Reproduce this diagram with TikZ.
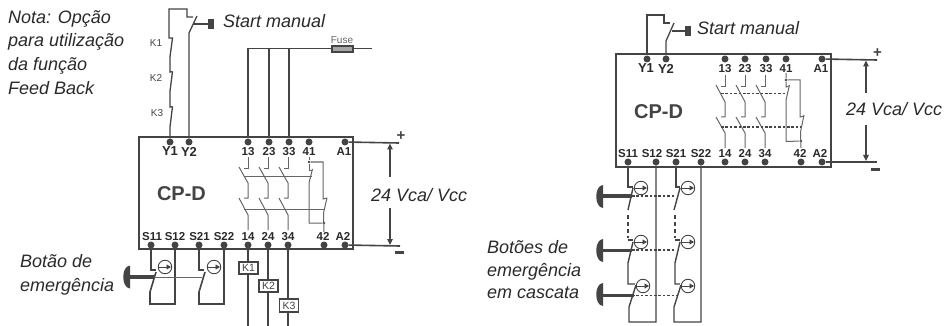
\documentclass[tikz,border=0pt]{standalone}
\usepackage{fontspec}
\setmainfont{Liberation Sans}
\usetikzlibrary{arrows.meta}
\definecolor{wirec}{HTML}{444444}
\definecolor{thinc}{HTML}{666666}
\definecolor{inkc}{HTML}{2A2A2A}
\tikzset{
  wire/.style={draw=wirec,line width=1.6pt},
  thin wire/.style={draw=wirec,line width=1.3pt},
  cas wire/.style={draw=wirec,line width=1.4pt},
  gray wire/.style={draw=thinc,line width=1pt},
  couple/.style={draw=thinc,line width=1pt},
  dashcouple/.style={draw=wirec,line width=1.1pt,dash pattern=on 2.6pt off 1.8pt},
  dashrod/.style={draw=wirec,line width=1.6pt,dash pattern=on 3.5pt off 3.5pt},
  term/.style={circle,fill=wirec,minimum size=7pt,inner sep=0pt},
  smalljoin/.style={circle,fill=wirec,minimum size=2.8pt,inner sep=0pt},
  tlab/.style={font=\fontsize{11.5}{12}\selectfont\bfseries,text=inkc,inner sep=0pt},
  ylab/.style={font=\fontsize{13}{14}\selectfont\bfseries,text=inkc,inner sep=0pt},
  desc/.style={font=\fontsize{18}{20}\selectfont\itshape,text=inkc,inner sep=0pt,anchor=base west},
  klab/.style={font=\fontsize{10}{12}\selectfont,text=wirec,inner sep=0pt},
  cpd/.style={font=\fontsize{20}{22}\selectfont\bfseries,text=wirec,inner sep=0pt},
  sign/.style={font=\fontsize{15}{16}\selectfont\bfseries,text=wirec,inner sep=0pt},
  kbox/.style={draw=wirec,line width=1.6pt,fill=white,font=\fontsize{10.5}{12}\selectfont,text=wirec,inner sep=0pt,minimum width=19pt,minimum height=12.5pt},
  arr/.style={draw=wirec,line width=1.2pt,-{Triangle[length=6pt,width=5.5pt]}},
  push/.style={draw=wirec,line width=3.2pt},
  pushhead/.style={fill=wirec},
  ring/.style={draw=wirec,line width=.9pt,fill=white,circle,minimum size=13.5pt,inner sep=0pt},
  ringarrow/.style={draw=wirec,line width=.8pt,-{Triangle[length=4.5pt,width=5pt]}}
}
\newcommand{\ehead}[2]{\fill[pushhead] (#1+7,#2-11.5) .. controls (#1-2,#2-11) and (#1-2,#2+11) .. (#1+7,#2+11.5) -- cycle;}
\newcommand{\ringm}[3]{\node[ring] (#1) at (#2,#3) {}; \draw[ringarrow] (#2-6,#3) -- (#2+6,#3);}
\begin{document}
\begin{tikzpicture}[x=1pt,y=-1pt]
\useasboundingbox (0,0) rectangle (945,326);
\fill[white] (0,0) rectangle (945,326);

%% ---------- LEFT ----------
\node[desc] (nota1) at (8,23.5) {Nota: Opção};
\node[desc] (nota2) at (8,47) {para utilização};
\node[desc] (nota3) at (8,71) {da função};
\node[desc] (nota4) at (8,94.5) {Feed Back};
\node[desc] (start1) at (223,28) {Start manual};
\node[klab] (k1l) at (156,43) {K1};
\node[klab] (k2l) at (156,78) {K2};
\node[klab] (k3l) at (157,113) {K3};
\node[klab,text=thinc] (fusel) at (342,40) {Fuse};

\draw[draw=wirec,line width=1.6pt] (139,137) rectangle (353,249);
\foreach \n/\x in {Y1/170,Y2/189,13/248,23/269,33/289,41/309,A1/345}
  \node[term] (L\n) at (\x,142) {};
\foreach \n/\x in {S11/151,S12/175,S21/199,S22/224,14/248,24/268,34/288,42/324,A2/345}
  \node[term] (L\n) at (\x,245) {};
\node[ylab] (Ll1) at (170,151.5) {Y1};
\node[ylab] (Ll2) at (189,151.5) {Y2};
\foreach \n/\x in {13/248,23/269,33/289,41/309,A1/344}
  \node[tlab] (Lt\n) at (\x,151.5) {\n};
\foreach \n/\x in {S11/152,S12/175,S21/199.5,S22/224,14/248,24/268,34/288,42/323,A2/343}
  \node[tlab] (Lt\n) at (\x,236.5) {\n};
\node[cpd] (Lcpd) at (181.5,194) {CP-D};

\draw[thin wire] (LY1) -- (170,127) -- (172.5,106.5) (172.5,106.5) -- (170,107) -- (170,91)
  -- (172.5,71.5) (172.5,71.5) -- (170,72) -- (170,57) -- (172.5,38) -- (169,38) -- (169,9)
  -- (187,9) -- (187,17) -- (193,17);
\draw[thin wire] (LY2) -- (189,33) -- (197,16);
\draw[push,line width=2.4pt] (193,24) -- (210,24);
\fill[wirec] (208,19) rectangle (213.5,29);
\draw[wire] (L13) -- (248,48.5) -- (372,48.5);
\draw[wire] (269,48.5) -- (L23);
\draw[wire] (289,48.5) -- (L33);
\draw[draw=wirec,line width=1.3pt,fill=black!35] (332,46) rectangle (353,52);

\foreach \x in {248,268,288}{
  \draw[gray wire] (\x,157) -- (\x,168) -- (\x-4,168);
  \draw[gray wire] (\x-9,167) -- (\x,183) -- (\x,198) -- (\x-4,198);
  \draw[gray wire] (\x-9,198) -- (\x,215) -- (\x,230);
}
\draw[couple] (244,176) -- (312,176);
\draw[couple] (244,209) -- (324,209);
\node[smalljoin] (Lj1) at (309,162) {};
\node[smalljoin] (Lj2) at (324,223) {};
\draw[gray wire] (309,157) -- (Lj1) -- (309,170) -- (312,170);
\draw[gray wire] (312.5,169) -- (309,183) -- (309,223) -- (Lj2);
\draw[gray wire] (Lj1) -- (323,162) -- (323,199) -- (327,198);
\draw[gray wire] (327,198) -- (323.5,213) -- (324,232);

\draw[wire] (LA1) -- (399,143);
\draw[wire] (LA2) -- (400,246);
\node[sign] (Lplus) at (401,136) {+};
\fill[wirec] (395,251) rectangle (404,253.5);
\coordinate (La) at (390,177);
\coordinate (Lb) at (390,208);
\draw[arr] (La) -- (390,143.5);
\draw[arr] (Lb) -- (390,245);
\node[desc] (Lv) at (371,201) {24 Vca/ Vcc};

\draw[wire] (L14) -- (248,326);
\draw[wire] (L24) -- (268,326);
\draw[wire] (L34) -- (288,326);
\node[kbox] (K1) at (248.5,268) {K1};
\node[kbox] (K2) at (268.5,286) {K2};
\node[kbox] (K3) at (289,305.5) {K3};

\draw[wire] (LS11) -- (151,270) -- (155.5,270);
\draw[wire] (156,272) -- (150,292) -- (150,304) -- (175,304) -- (LS12);
\draw[wire] (LS21) -- (199,270) -- (204,270);
\draw[wire] (205,272) -- (199,292) -- (199,304) -- (224,304) -- (LS22);
\ringm{Lr1}{165}{267}
\ringm{Lr2}{214}{267}
\draw[couple] (153,277) -- (202,277);
\draw[push] (128,277) -- (154,277);
\ehead{123}{277}
\node[desc] (b1) at (20,267) {Botão de};
\node[desc] (b2) at (20,291) {emergência};

%% ---------- RIGHT ----------
\node[desc] (start2) at (697,34.5) {Start manual};
\draw[draw=wirec,line width=1.6pt] (616,54) rectangle (831,167);
\foreach \n/\x in {Y1/647,Y2/666,13/725,23/745,33/766,41/786,A1/822}
  \node[term] (R\n) at (\x,59) {};
\foreach \n/\x in {S11/628,S12/656,S21/676,S22/701,14/725,24/745,34/765,42/801,A2/822}
  \node[term] (R\n) at (\x,162) {};
\node[ylab] (Rl1) at (646,68.5) {Y1};
\node[ylab] (Rl2) at (666,68.5) {Y2};
\foreach \n/\x in {13/725,23/745,33/766,41/786,A1/821}
  \node[tlab] (Rt\n) at (\x,68.5) {\n};
\foreach \n/\x in {S11/628,S12/652,S21/676,S22/701,14/725,24/745,34/765,42/800,A2/820}
  \node[tlab] (Rt\n) at (\x,153.5) {\n};
\node[cpd] (Rcpd) at (658.5,112) {CP-D};

\draw[thin wire] (RY1) -- (647,15) -- (664,15) -- (664,23) -- (670,23);
\draw[thin wire] (RY2) -- (666,41) -- (674,23);
\draw[push,line width=2.4pt] (672,31) -- (688,31);
\fill[wirec] (685,26) rectangle (691,36);

\foreach \x in {725,745,765}{
  \draw[gray wire] (\x,75) -- (\x,87) -- (\x-4,87);
  \draw[gray wire] (\x-9,85) -- (\x,102) -- (\x,117) -- (\x-4,117);
  \draw[gray wire] (\x-9,117) -- (\x,133) -- (\x,148);
}
\draw[dashcouple] (721,93.5) -- (787,93.5);
\draw[dashcouple] (721,127) -- (802,127);
\node[smalljoin] (Rj1) at (786,80) {};
\node[smalljoin] (Rj2) at (801,141) {};
\draw[gray wire] (786,73) -- (Rj1) -- (786,87) -- (789,86);
\draw[gray wire] (789.5,85) -- (786,100) -- (786,141.5) -- (Rj2);
\draw[gray wire] (Rj1) -- (800,80) -- (800,117) -- (804,116);
\draw[gray wire] (804,115) -- (800.5,132) -- (801,148);

\draw[wire] (RA1) -- (877,60);
\draw[wire] (RA2) -- (877,162);
\node[sign] (Rplus) at (877.5,53) {+};
\fill[wirec] (871,168) rectangle (880,170.5);
\coordinate (Ra) at (866,93);
\coordinate (Rb) at (866,125);
\draw[arr] (Ra) -- (866,60.5);
\draw[arr] (Rb) -- (866,161);
\node[desc] (Rv) at (846,116) {24 Vca/ Vcc};

\draw[cas wire] (RS11) -- (628,187) -- (633,187);
\draw[cas wire] (633,188) -- (628,210);
\draw[dashrod] (628,215) -- (628,238);
\draw[cas wire] (628,240) -- (633,240);
\draw[cas wire] (633,242) -- (628,263) -- (628,284) -- (635,284);
\draw[cas wire] (636,285) -- (629,307) -- (629,322) -- (656,322) -- (RS12);
\draw[cas wire] (RS21) -- (676,187) -- (680,187);
\draw[cas wire] (680,188) -- (674,210);
\draw[dashrod] (675,215) -- (675,238);
\draw[cas wire] (675,240) -- (680,240);
\draw[cas wire] (680,242) -- (675,263) -- (675,284) -- (680,284);
\draw[cas wire] (681,285) -- (674,307) -- (674,322) -- (701,322) -- (RS22);
\ringm{Rr1}{641}{188}
\ringm{Rr2}{688}{188}
\ringm{Rr3}{641}{242}
\ringm{Rr4}{688}{242}
\ringm{Rr5}{643}{286}
\ringm{Rr6}{688}{286}
\draw[dashcouple] (632,196) -- (675,196);
\draw[dashcouple] (632,250) -- (675,250);
\draw[dashcouple] (632,295.5) -- (677,295.5);
\draw[push] (601,196) -- (632,196);
\draw[push] (601,250.5) -- (632,250.5);
\draw[push] (601,295.5) -- (634,295.5);
\ehead{596}{196.5}
\ehead{596}{250.5}
\ehead{596}{294.5}
\node[desc] (c1) at (487,253) {Botões de};
\node[desc] (c2) at (487,276) {emergência};
\node[desc] (c3) at (487,298) {em cascata};
\end{tikzpicture}
\end{document}
